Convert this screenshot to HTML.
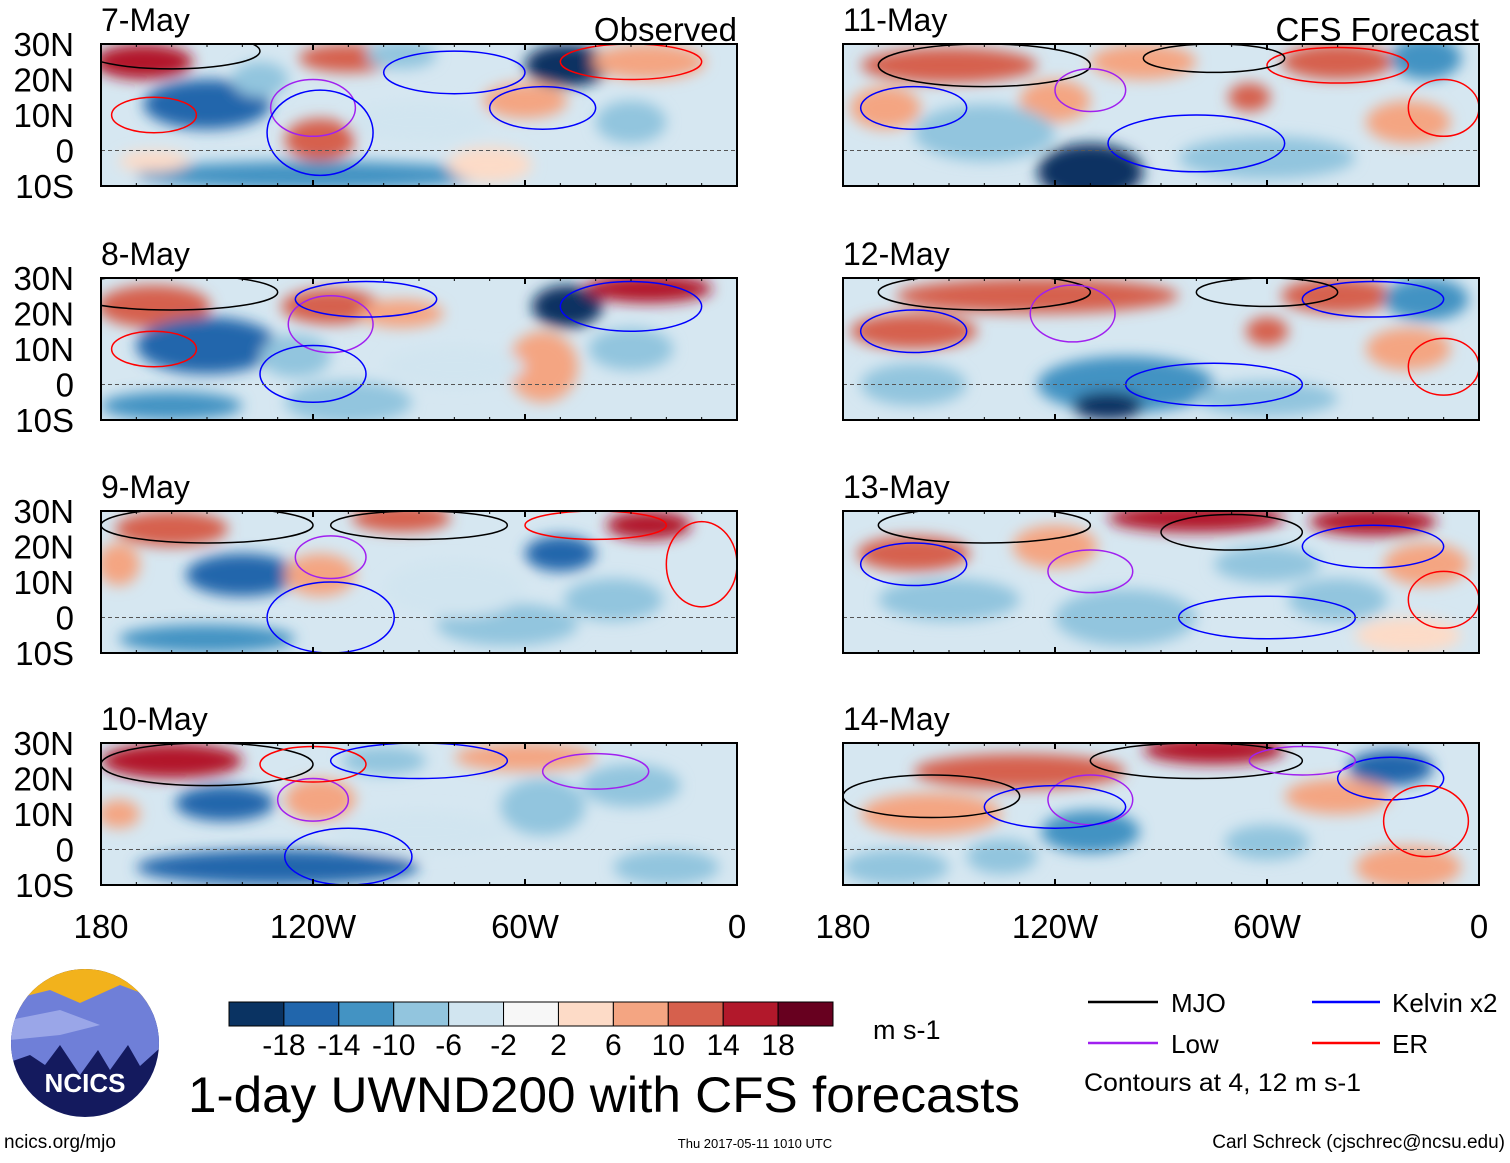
<!DOCTYPE html>
<html><head><meta charset="utf-8">
<style>
body{margin:0;background:#fff;}
svg text{font-family:"Liberation Sans",sans-serif;}
</style></head>
<body>
<svg id="fig" width="1510" height="1158" viewBox="0 0 1510 1158" xmlns="http://www.w3.org/2000/svg">
<defs>
<filter id="blur" x="-30%" y="-30%" width="160%" height="160%"><feGaussianBlur stdDeviation="7"/></filter>
<clipPath id="clipL"><rect x="0" y="0" width="636" height="142"/></clipPath>
<clipPath id="logoClip"><circle cx="85" cy="1043" r="74"/></clipPath>
</defs>
<g id="panels"></g>
<g id="cbar"></g>
<text x="873" y="1039" font-size="27">m s-1</text>
<text x="188" y="1112" font-size="50" textLength="832" lengthAdjust="spacingAndGlyphs">1-day UWND200 with CFS forecasts</text>
<g clip-path="url(#logoClip)">
<rect x="0" y="960" width="170" height="170" fill="#141a5e"/>
<rect x="0" y="960" width="170" height="50" fill="#f2b21c"/>
<path d="M10,1000 L50,990 L80,1003 L120,985 L160,1000 L160,1048 L140,1066 L128,1045 L110,1070 L98,1050 L80,1075 L60,1045 L45,1065 L30,1055 L10,1062 Z" fill="#6f7fd8"/>
<path d="M10,1020 L60,1010 L100,1025 L60,1035 L10,1040 Z" fill="#9aa6e8"/>
<text x="85" y="1092" font-size="26" font-weight="bold" fill="#fff" text-anchor="middle">NCICS</text>
</g>
<text x="4" y="1148" font-size="19">ncics.org/mjo</text>
<text x="755" y="1148" font-size="13" text-anchor="middle">Thu 2017-05-11 1010 UTC</text>
<text x="1505" y="1148" font-size="19" text-anchor="end">Carl Schreck (cjschrec@ncsu.edu)</text>
<g>
<line x1="1088" y1="1002" x2="1158" y2="1002" stroke="#000" stroke-width="2.5"/>
<text x="1171" y="1012" font-size="26">MJO</text>
<line x1="1312" y1="1002" x2="1380" y2="1002" stroke="#0000ff" stroke-width="2.5"/>
<text x="1392" y="1012" font-size="26">Kelvin x2</text>
<line x1="1088" y1="1043" x2="1158" y2="1043" stroke="#a020f0" stroke-width="2.5"/>
<text x="1171" y="1053" font-size="26">Low</text>
<line x1="1312" y1="1043" x2="1380" y2="1043" stroke="#ff0000" stroke-width="2.5"/>
<text x="1392" y="1053" font-size="26">ER</text>
<text x="1084" y="1091" font-size="25" textLength="277" lengthAdjust="spacingAndGlyphs">Contours at 4, 12 m s-1</text>
</g>
</svg>
<script>
const levels=[-18,-14,-10,-6,-2,2,6,10,14,18];
const colors=["#0a3362","#2166ac","#4393c3","#92c5de","#d1e5f0","#f7f7f7","#fddbc7","#f4a582","#d6604d","#b2182b","#67001f"];
const dates=["7-May","8-May","9-May","10-May","11-May","12-May","13-May","14-May"];
const latTicks=["30N","20N","10N","0","10S"];
const latVals=[30,20,10,0,-10];
const lonTicks=["180","120W","60W","0"];
const lonVals=[-180,-120,-60,0];
// blobs: [lon, lat, lonHalfWidth, latHalfHeight, wind value]
const blobs0=[[-168,25,14,5,16],[-150,13,18,7,-14],[-135,20,8,5,-8],[-118,3,10,6,14],[-110,26,14,4,12],[-95,27,10,4,-6],[-60,14,12,5,10],[-48,24,12,6,-20],[-25,25,16,5,10],[-30,8,10,6,-6],[-120,-7,50,4,-10],[-165,-3,10,3,6],[-70,-4,12,5,6],[-90,8,20,6,-4]];
const blobs1=[[-165,22,16,6,14],[-150,11,20,8,-16],[-115,22,14,5,14],[-95,20,12,4,10],[-48,22,10,6,-20],[-25,27,18,4,18],[-30,10,12,6,-8],[-160,-6,20,4,-10],[-110,-5,18,6,-6],[-55,5,10,10,8],[-125,8,10,6,-6],[-80,5,20,6,-4]];
const blobs2=[[-160,25,16,5,14],[-140,12,16,6,-16],[-118,12,10,6,10],[-95,28,14,4,14],[-50,18,10,5,-14],[-25,26,12,4,16],[-150,-6,25,4,-12],[-35,5,14,6,-8],[-65,-2,20,6,-6],[-175,15,6,6,10],[-80,8,20,8,-4]];
const blobs3=[[-160,25,20,5,16],[-145,13,14,5,-14],[-118,14,10,6,10],[-130,-5,40,5,-14],[-55,12,12,8,-8],[-30,18,14,6,-8],[-100,25,12,4,-6],[-175,10,6,4,10],[-60,26,20,4,10],[-90,5,25,6,-4],[-20,-5,15,5,-6]];
const blobs4=[[-150,24,25,5,14],[-168,12,10,6,10],[-120,14,10,6,8],[-110,-6,15,8,-18],[-65,15,6,4,14],[-95,25,15,5,10],[-40,25,16,5,12],[-15,26,10,6,-10],[-20,8,12,6,10],[-140,5,20,8,-6],[-60,-2,25,6,-6]];
const blobs5=[[-160,15,18,5,14],[-125,25,40,5,12],[-60,15,6,4,14],[-100,0,25,8,-12],[-105,-6,10,4,-18],[-40,25,16,5,14],[-15,24,12,6,-12],[-160,0,15,6,-6],[-20,10,12,6,8],[-60,-4,20,5,-6]];
const blobs6=[[-160,18,16,5,12],[-80,28,25,4,16],[-30,27,18,4,16],[-120,20,12,6,10],[-15,15,12,6,10],[-100,0,20,8,-8],[-40,5,14,6,-8],[-150,5,20,6,-6],[-60,15,15,5,-6],[-20,-5,15,5,6]];
const blobs7=[[-130,22,30,5,12],[-75,28,20,4,16],[-25,23,12,5,-16],[-155,10,20,6,8],[-110,5,14,6,-10],[-60,2,12,5,-6],[-20,-5,15,6,10],[-165,-5,15,5,-6],[-40,15,15,5,8],[-135,-2,10,5,-8]];
const allBlobs=[blobs0,blobs1,blobs2,blobs3,blobs4,blobs5,blobs6,blobs7];
// contours: [lon, lat, lonHalfWidth, latHalfHeight, type]
const cont0=[[-160,28,25,5,"mjo"],[-120,12,12,8,"low"],[-118,5,15,12,"kel"],[-165,10,12,5,"er"],[-55,12,15,6,"kel"],[-30,25,20,5,"er"],[-80,22,20,6,"kel"]];
const cont1=[[-160,26,30,5,"mjo"],[-115,17,12,8,"low"],[-120,3,15,8,"kel"],[-165,10,12,5,"er"],[-30,22,20,7,"kel"],[-105,24,20,5,"kel"]];
const cont2=[[-150,26,30,5,"mjo"],[-115,17,10,6,"low"],[-115,0,18,10,"kel"],[-90,26,25,4,"mjo"],[-40,26,20,4,"er"],[-10,15,10,12,"er"]];
const cont3=[[-150,24,30,6,"mjo"],[-120,14,10,6,"low"],[-110,-2,18,8,"kel"],[-120,24,15,5,"er"],[-40,22,15,5,"low"],[-90,25,25,5,"kel"]];
const cont4=[[-140,24,30,6,"mjo"],[-110,17,10,6,"low"],[-160,12,15,6,"kel"],[-80,2,25,8,"kel"],[-40,24,20,5,"er"],[-10,12,10,8,"er"],[-75,26,20,4,"mjo"]];
const cont5=[[-140,26,30,5,"mjo"],[-115,20,12,8,"low"],[-160,15,15,6,"kel"],[-75,0,25,6,"kel"],[-30,24,20,5,"kel"],[-10,5,10,8,"er"],[-60,26,20,4,"mjo"]];
const cont6=[[-140,26,30,5,"mjo"],[-110,13,12,6,"low"],[-160,15,15,6,"kel"],[-60,0,25,6,"kel"],[-30,20,20,6,"kel"],[-10,5,10,8,"er"],[-70,24,20,5,"mjo"]];
const cont7=[[-155,15,25,6,"mjo"],[-110,14,12,7,"low"],[-120,12,20,6,"kel"],[-80,25,30,5,"mjo"],[-25,20,15,6,"kel"],[-15,8,12,10,"er"],[-50,25,15,4,"low"]];
const allCont=[cont0,cont1,cont2,cont3,cont4,cont5,cont6,cont7];
const contColor={mjo:"#000",kel:"#0000ff",low:"#a020f0",er:"#ff0000"};
const NS="http://www.w3.org/2000/svg";
const W=636,H=142;
const colX=[101,843],rowY=[44,278,511,743];
function colorFor(v){let i=0;while(i<levels.length&&v>levels[i])i++;return colors[i];}
function mk(t,a,p){const e=document.createElementNS(NS,t);for(const k in a)e.setAttribute(k,a[k]);p.appendChild(e);return e;}
const root=document.getElementById('panels');
allBlobs.forEach((bl,pi)=>{
  const col=pi<4?0:1,row=pi%4;
  const ox=colX[col],oy=rowY[row];
  const xs=lon=>(lon+180)/180*W, ys=lat=>(30-lat)/40*H;
  const g=mk('g',{transform:`translate(${ox},${oy})`},root);
  
  
  const inner=mk('g',{'clip-path':'url(#clipL)'},g);
  mk('rect',{x:0,y:0,width:W,height:H,fill:'#d6e7f1'},inner);
  const bg=mk('g',{filter:'url(#blur)'},inner);
  bl.forEach(b=>{
    const e=mk('ellipse',{cx:xs(b[0]),cy:ys(b[1]),rx:b[2]/180*W,ry:b[3]/40*H,fill:colorFor(b[4])},bg);
    
    
  });
  allCont[pi].forEach(c=>{
    const e=mk('ellipse',{cx:xs(c[0]),cy:ys(c[1]),rx:c[2]/180*W,ry:c[3]/40*H,fill:'none',stroke:contColor[c[4]],'stroke-width':1.5},inner);
    
    
  });
  mk('line',{x1:0,y1:ys(0),x2:W,y2:ys(0),stroke:'#555','stroke-dasharray':'4,3','stroke-width':1},inner);
  mk('rect',{x:0,y:0,width:W,height:H,fill:'none',stroke:'#000','stroke-width':2},g);
  lonVals.forEach(l=>{for(const yy of [0,H]){mk('line',{x1:xs(l),y1:yy,x2:xs(l),y2:yy+(yy?-6:6),stroke:'#000','stroke-width':2},g);}});
  for(let l=-180;l<=0;l+=10){mk('line',{x1:xs(l),y1:0,x2:xs(l),y2:3,stroke:'#000'},g);mk('line',{x1:xs(l),y1:H,x2:xs(l),y2:H-3,stroke:'#000'},g);}
  const t=mk('text',{x:0,y:-13,'font-size':32},g);t.textContent=dates[pi];
  
  if(row===0){const s=mk('text',{x:W,y:-3,'font-size':33,'text-anchor':'end'},g);s.textContent=col?'CFS Forecast':'Observed';
    }
  if(col===0){latVals.forEach((lv,i)=>{const tt=mk('text',{x:-27,y:ys(lv)+12,'font-size':33,'text-anchor':'end'},g);tt.textContent=latTicks[i];
    });}
  if(row===3){lonVals.forEach((lv,i)=>{const tt=mk('text',{x:xs(lv),y:H+53,'font-size':33,'text-anchor':'middle'},g);tt.textContent=lonTicks[i];
    });}
});
const cb=document.getElementById('cbar');
const cw=604/colors.length;
colors.forEach((c,i)=>{const r=mk('rect',{x:229+i*cw,y:1002,width:cw,height:24,fill:c,stroke:'#000','stroke-width':1},cb);
  });
levels.forEach((l,i)=>{const t=mk('text',{x:229+(i+1)*cw,y:1055,'font-size':30,'text-anchor':'middle'},cb);t.textContent=l;
  });
</script>
</body></html>
